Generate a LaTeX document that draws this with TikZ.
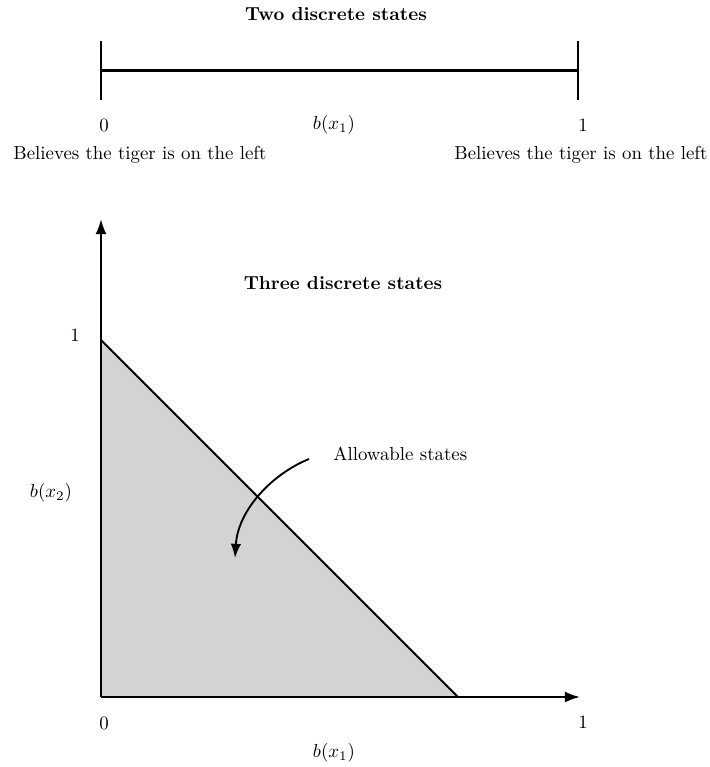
\documentclass[tikz,border=0pt]{standalone}
\usetikzlibrary{arrows.meta}
\begin{document}
\begin{tikzpicture}[x=0.53pt,y=-0.53pt,
  lbl/.style={inner sep=0pt, font=\normalsize},
  ttl/.style={inner sep=0pt, font=\bfseries},
  axisline/.style={line width=1.1pt},
  axisarrow/.style={line width=1.1pt,-{Latex[length=8pt,width=5.8pt]}},
  curvearrow/.style={line width=1pt,-{Latex[length=7.5pt,width=5.5pt]}}]
\useasboundingbox (0,0) rectangle (709,767);
% top: two discrete states
\node[ttl] (t1) at (336,14) {Two discrete states};
\coordinate (l0) at (101,70.5);
\coordinate (l1) at (578,70.5);
\coordinate (l0t) at (101,41);
\coordinate (l0b) at (101,100);
\coordinate (l1t) at (578,41);
\coordinate (l1b) at (578,100);
\draw[axisline] (l0) -- (l1);
\draw[axisline] (l0t) -- (l0b);
\draw[axisline] (l1t) -- (l1b);
\node[lbl] (z0) at (104,125) {0};
\node[lbl] (bx) at (334,125) {$b(x_1)$};
\node[lbl] (o1) at (583,125) {1};
\node[lbl] (bl) at (140,155) {Believes the tiger is on the left};
\node[lbl] (br) at (581,155) {Believes the tiger is on the left};
% bottom: three discrete states
\coordinate (O) at (101,697);
\coordinate (Y1) at (101,340);
\coordinate (X1) at (458,697);
\coordinate (Ytip) at (101,219);
\coordinate (Xtip) at (580,697);
\fill[fill={rgb,255:red,211;green,211;blue,211}] (O) -- (Y1) -- (X1) -- cycle;
\draw[axisline] (Y1) -- (X1);
\draw[axisarrow] (O) -- (Ytip);
\draw[axisarrow] (O) -- (Xtip);
\node[ttl] (t2) at (343,283) {Three discrete states};
\node[lbl] (y1) at (75,335) {1};
\node[lbl] (bx2) at (51,493) {$b(x_2)$};
\node[lbl] (z0b) at (104,723) {0};
\node[lbl] (o1b) at (583,722) {1};
\node[lbl] (bx1b) at (334,753) {$b(x_1)$};
\node[lbl, anchor=west] (allow) at (333,454) {Allowable states};
\coordinate (as) at (309,459);
\coordinate (ae) at (235,558);
\draw[curvearrow] (as) .. controls (272,474) and (238,510) .. (ae);
\end{tikzpicture}
\end{document}
